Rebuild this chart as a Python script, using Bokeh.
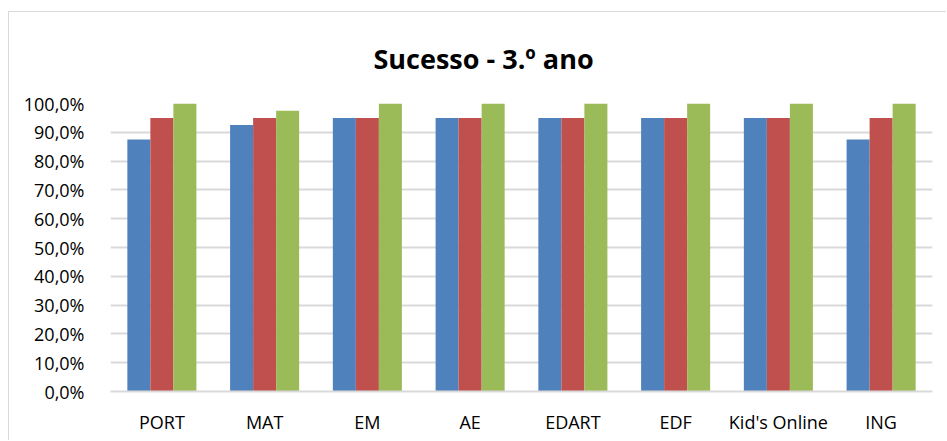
from bokeh.plotting import figure
from bokeh.models import FactorRange, Range1d, CustomJSTickFormatter, FixedTicker, ColumnDataSource
from bokeh.transform import dodge
from bokeh.embed import file_html
from bokeh.resources import INLINE

categorias = ["PORT", "MAT", "EM", "AE", "EDART", "EDF", "Kid's Online", "ING"]
serie_1 = [0.875, 0.925, 0.95, 0.95, 0.95, 0.95, 0.95, 0.875]
serie_2 = [0.95, 0.95, 0.95, 0.95, 0.95, 0.95, 0.95, 0.95]
serie_3 = [1.0, 0.975, 1.0, 1.0, 1.0, 1.0, 1.0, 1.0]
y_ticks = [0.0, 0.1, 0.2, 0.3, 0.4, 0.5, 0.6, 0.7, 0.8, 0.9, 1.0]
titulo = "Sucesso - 3.º ano"

src = ColumnDataSource(dict(cat=categorias, s1=serie_1, s2=serie_2, s3=serie_3))

p = figure(width=938, height=429, output_backend="svg", toolbar_location=None,
           x_range=FactorRange(*categorias), y_range=Range1d(0, 1.0),
           min_border_left=101, min_border_right=15, min_border_top=91, min_border_bottom=50)
p.margin = (11, 0, 0, 8)
p.styles = {"border-top": "1px solid #d9d9d9", "border-left": "1px solid #d9d9d9"}
p.outline_line_color = None
p.x_range.range_padding = 0
p.x_range.factor_padding = 0

p.title.text = titulo
p.title.text_font = "Open Sans"
p.title.text_font_style = "bold"
p.title.text_font_size = "27px"
p.title.text_color = "#000000"
p.title.align = "left"
p.title.offset = 263
p.title.vertical_align = "top"
p.title.standoff = 50

w = 0.224
p.vbar(x=dodge("cat", -w, range=p.x_range), top="s1", width=w, source=src,
       fill_color="#4F81BD", line_color=None)
p.vbar(x=dodge("cat", 0, range=p.x_range), top="s2", width=w, source=src,
       fill_color="#C0504D", line_color=None)
p.vbar(x=dodge("cat", w, range=p.x_range), top="s3", width=w, source=src,
       fill_color="#9BBB59", line_color=None)

p.yaxis.ticker = FixedTicker(ticks=y_ticks)
p.yaxis.formatter = CustomJSTickFormatter(code="return (tick*100).toFixed(1).replace('.', ',') + '%';")
p.yaxis.axis_line_color = None
p.yaxis.major_tick_line_color = None
p.yaxis.minor_tick_line_color = None
p.yaxis.major_label_text_font = "Open Sans"
p.yaxis.major_label_text_font_size = "18px"
p.yaxis.major_label_text_color = "#000000"
p.yaxis.major_label_standoff = 20

p.xaxis.axis_line_color = "#d9d9d9"
p.xaxis.axis_line_width = 2
p.xaxis.major_tick_line_color = None
p.xaxis.minor_tick_line_color = None
p.xaxis.major_label_text_font = "Open Sans"
p.xaxis.major_label_text_font_size = "18px"
p.xaxis.major_label_text_color = "#000000"
p.xaxis.major_label_standoff = 12

p.xgrid.grid_line_color = None
p.ygrid.grid_line_color = "#d9d9d9"
p.ygrid.grid_line_width = 2

open("out.html", "w").write(file_html(p, INLINE))
